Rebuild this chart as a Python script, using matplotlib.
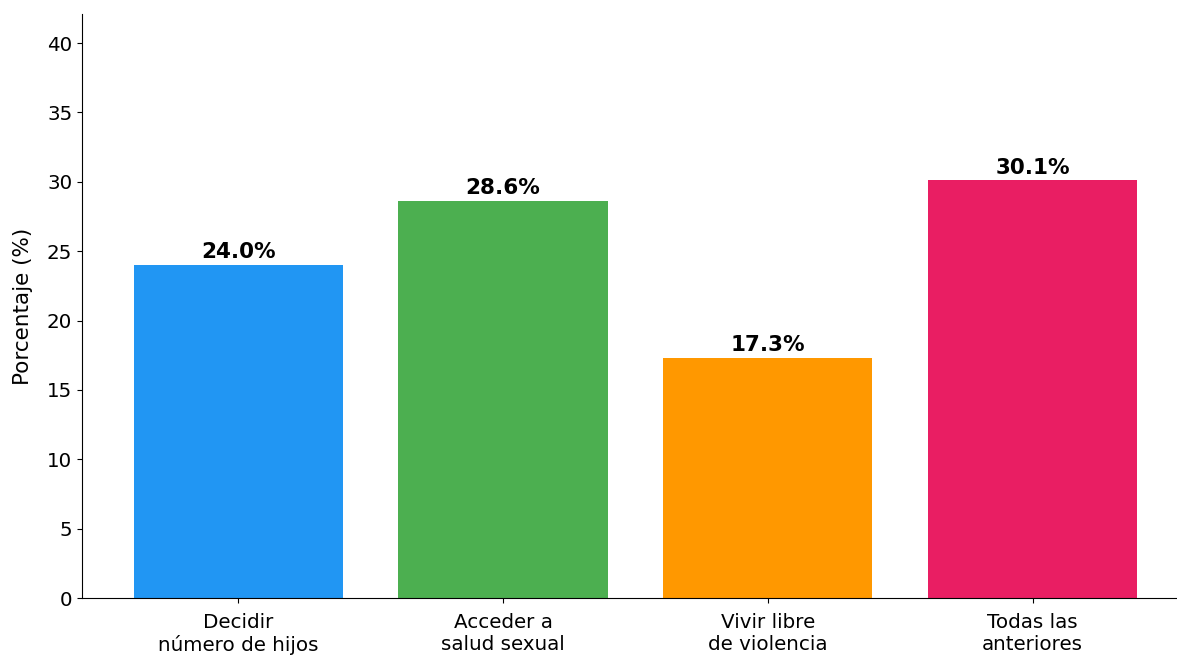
import matplotlib

matplotlib.use("Agg")
import matplotlib.pyplot as plt  # noqa: E402
import numpy as np  # noqa: E402

categories = ["Decidir\nnúmero de hijos", "Acceder a\nsalud sexual",
              "Vivir libre\nde violencia", "Todas las\nanteriores"]
values = [24.0, 28.6, 17.3, 30.1]
colors = ["#2196F3", "#4CAF50", "#FF9800", "#E91E63"]

fig = plt.figure(figsize=(11.77, 6.56), dpi=100)
ax = fig.add_axes([82 / 1177, 58 / 656, (1177 - 82) / 1177, (598 - 14) / 656])

x = np.arange(len(categories))
ax.bar(x, values, width=0.79, color=colors)
for i, v in enumerate(values):
    ax.text(i, v + 0.2, f"{v:.1f}%", ha="center", va="bottom",
            fontsize=15.5, fontweight="bold")

ax.set_xlim(-0.59, 3.545)
ax.set_ylim(0, 42.1)
ax.set_yticks(range(0, 41, 5))
ax.set_xticks(x)
ax.set_xticklabels(categories, fontsize=14.3)
ax.tick_params(axis="x", pad=7)
ax.tick_params(axis="y", labelsize=14.3)
ax.set_ylabel("Porcentaje (%)", fontsize=15.5, labelpad=10)
ax.spines["top"].set_visible(False)
ax.spines["right"].set_visible(False)

fig.savefig("out.png", dpi=100)
